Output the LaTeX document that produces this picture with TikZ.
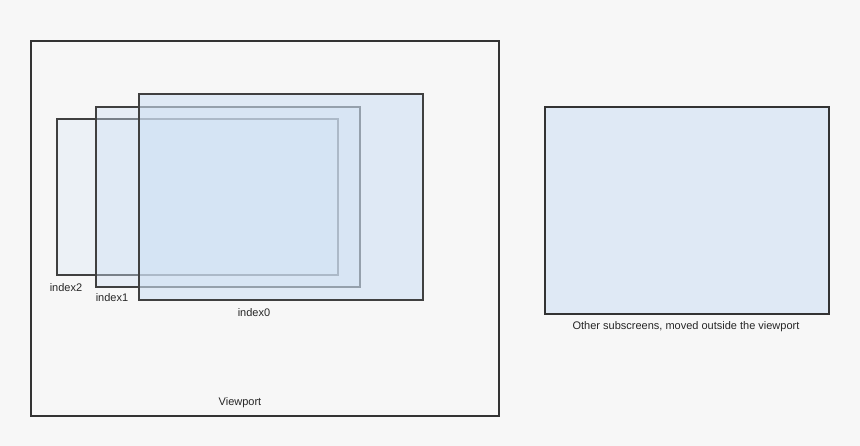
\documentclass[tikz,border=0pt]{standalone}
\usepackage{fontspec}
\setmainfont{Liberation Sans}
\begin{document}
\begin{tikzpicture}[x=1pt,y=-1pt,
  lbl/.style={font=\fontsize{11}{13}\selectfont, text=black!85},
  sub/.style={draw=black!75, line width=1.2pt, fill={rgb,255:red,207;green,224;blue,244}, fill opacity=0.6}]
\definecolor{bg}{HTML}{F7F7F7}
\definecolor{sc}{HTML}{DFE9F5}
\fill[bg] (0,0) rectangle (860,446);
\useasboundingbox (0,0) rectangle (860,446);
\draw[black!80, line width=1.2pt] (31,41) rectangle (499,416);
\node[lbl] (vp) at (240,403) {Viewport};
\draw[sub, fill opacity=0.25] (57,119) rectangle (338,275);
\draw[sub, fill opacity=0.4] (96,107) rectangle (360,287);
\draw[sub] (139,94) rectangle (423,300);
\node[lbl] (i2) at (66,288) {index2};
\node[lbl] (i1) at (112,298) {index1};
\node[lbl] (i0) at (254,313) {index0};
\draw[black!80, line width=1.2pt, fill=sc] (545,107) rectangle (829,314);
\node[lbl] (ot) at (686,327) {Other subscreens, moved outside the viewport};
\end{tikzpicture}
\end{document}
